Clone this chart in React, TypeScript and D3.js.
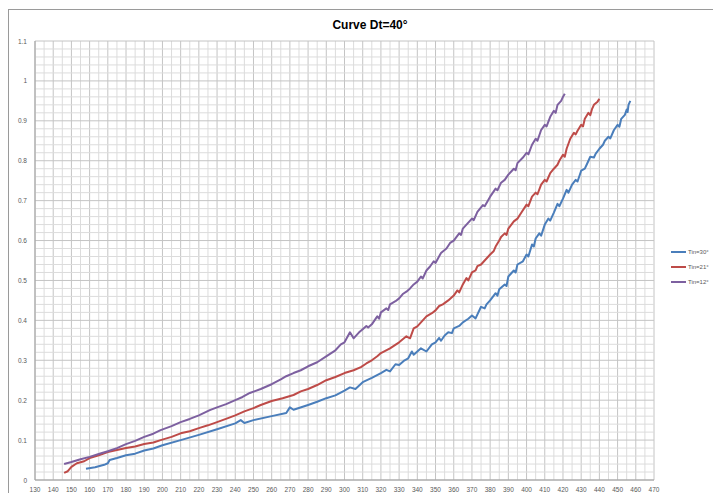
import React from "react";
import * as d3 from "d3";

const title = "Curve Dt=40°";
const xTicks = d3.range(130, 471, 10);
const yTicks = [0, 0.1, 0.2, 0.3, 0.4, 0.5, 0.6, 0.7, 0.8, 0.9, 1, 1.1];
const seriesNames = ["Tin=30°", "Tin=21°", "Tin=12°"];
const seriesColors = ["#4A7EBB", "#BE4B48", "#7D60A0"];

const blue: [number, number][] = [
  [158, 0.028], [163, 0.032], [168, 0.038], [170, 0.042], [171, 0.05], [175, 0.055],
  [180, 0.062], [185, 0.066], [190, 0.074], [195, 0.079], [200, 0.087], [210, 0.1],
  [220, 0.113], [230, 0.127], [240, 0.142], [243, 0.15], [245, 0.143], [250, 0.15],
  [260, 0.16], [268, 0.168], [270, 0.182], [272, 0.176], [280, 0.188], [285, 0.196],
  [290, 0.205], [295, 0.212], [300, 0.224], [303, 0.232], [306, 0.228], [310, 0.245],
  [315, 0.256], [320, 0.268], [323, 0.276], [325, 0.272], [328, 0.29], [330, 0.288],
  [333, 0.3], [335, 0.305], [337, 0.322], [338, 0.314], [342, 0.33], [345, 0.322],
  [348, 0.34], [350, 0.345], [352, 0.356], [353, 0.349], [355, 0.362], [357, 0.37],
  [359, 0.368], [360, 0.38], [363, 0.386], [365, 0.395], [368, 0.404], [370, 0.412],
  [372, 0.405], [375, 0.434], [377, 0.43], [378, 0.44], [380, 0.45], [383, 0.468],
  [384, 0.462], [385, 0.478], [388, 0.49], [389, 0.486], [390, 0.51], [393, 0.525],
  [394, 0.52], [395, 0.54], [398, 0.548], [400, 0.565], [401, 0.56], [403, 0.59],
  [404, 0.585], [405, 0.605], [407, 0.618], [408, 0.612], [410, 0.64], [412, 0.655],
  [413, 0.65], [415, 0.67], [417, 0.692], [418, 0.686], [420, 0.705], [422, 0.727],
  [423, 0.72], [425, 0.74], [427, 0.752], [428, 0.748], [430, 0.775], [432, 0.78],
  [433, 0.79], [435, 0.81], [437, 0.808], [438, 0.818], [440, 0.83], [442, 0.84],
  [443, 0.85], [445, 0.86], [446, 0.856], [448, 0.877], [450, 0.89], [451, 0.885],
  [452, 0.905], [454, 0.915], [455, 0.928], [455.5, 0.922], [456, 0.94], [457, 0.95]
];

const red: [number, number][] = [
  [146, 0.018], [148, 0.022], [150, 0.033], [153, 0.042], [157, 0.047], [160, 0.055],
  [165, 0.062], [170, 0.07], [175, 0.075], [180, 0.08], [185, 0.084], [190, 0.09],
  [195, 0.094], [199, 0.1], [205, 0.108], [210, 0.117], [215, 0.122], [220, 0.13],
  [225, 0.137], [230, 0.145], [236, 0.155], [240, 0.162], [245, 0.172], [250, 0.18],
  [254, 0.188], [260, 0.198], [266, 0.205], [272, 0.213], [276, 0.222], [280, 0.228],
  [285, 0.238], [290, 0.25], [295, 0.258], [300, 0.268], [305, 0.275], [309, 0.283],
  [312, 0.292], [315, 0.3], [318, 0.31], [320, 0.318], [325, 0.33], [330, 0.345],
  [334, 0.36], [336, 0.355], [338, 0.38], [340, 0.385], [342, 0.395], [345, 0.41],
  [348, 0.418], [350, 0.425], [352, 0.436], [354, 0.44], [357, 0.45], [360, 0.462],
  [362, 0.475], [363, 0.47], [365, 0.49], [367, 0.506], [368, 0.5], [370, 0.52],
  [372, 0.525], [373, 0.536], [375, 0.54], [378, 0.555], [380, 0.565], [382, 0.574],
  [383, 0.585], [385, 0.6], [386, 0.609], [388, 0.618], [389, 0.614], [390, 0.63],
  [393, 0.648], [395, 0.655], [397, 0.669], [400, 0.69], [401, 0.686], [403, 0.71],
  [405, 0.72], [406, 0.716], [408, 0.74], [410, 0.752], [411, 0.748], [413, 0.769],
  [415, 0.78], [417, 0.79], [418, 0.8], [420, 0.815], [421, 0.81], [422, 0.83],
  [424, 0.855], [426, 0.87], [427, 0.866], [428, 0.875], [430, 0.89], [431, 0.886],
  [432, 0.905], [434, 0.92], [435, 0.914], [436, 0.93], [437, 0.94], [439, 0.948],
  [440, 0.955]
];

const purple: [number, number][] = [
  [146, 0.04], [150, 0.045], [155, 0.052], [160, 0.058], [165, 0.065], [170, 0.072],
  [175, 0.08], [180, 0.09], [185, 0.098], [190, 0.108], [195, 0.116], [199, 0.125],
  [205, 0.135], [210, 0.145], [215, 0.153], [220, 0.162], [226, 0.175], [230, 0.182],
  [235, 0.19], [240, 0.2], [244, 0.208], [248, 0.218], [254, 0.228], [260, 0.24],
  [265, 0.252], [268, 0.26], [272, 0.268], [276, 0.275], [280, 0.285], [285, 0.295],
  [291, 0.313], [295, 0.325], [298, 0.34], [300, 0.345], [303, 0.37], [305, 0.355],
  [308, 0.37], [310, 0.378], [312, 0.386], [313, 0.382], [315, 0.39], [318, 0.41],
  [319, 0.404], [320, 0.42], [323, 0.43], [324, 0.426], [325, 0.44], [328, 0.448],
  [330, 0.455], [332, 0.466], [334, 0.472], [336, 0.48], [338, 0.49], [340, 0.497],
  [342, 0.51], [343, 0.505], [345, 0.525], [347, 0.535], [349, 0.548], [350, 0.544],
  [353, 0.569], [356, 0.58], [358, 0.594], [360, 0.6], [363, 0.618], [364, 0.614],
  [365, 0.63], [368, 0.645], [370, 0.655], [371, 0.651], [373, 0.672], [376, 0.689],
  [377, 0.686], [380, 0.71], [383, 0.73], [384, 0.726], [386, 0.745], [388, 0.752],
  [390, 0.765], [393, 0.78], [394, 0.776], [395, 0.794], [398, 0.808], [400, 0.82],
  [401, 0.816], [403, 0.84], [405, 0.855], [406, 0.85], [408, 0.877], [410, 0.89],
  [411, 0.886], [413, 0.91], [415, 0.925], [416, 0.92], [417, 0.94], [419, 0.95],
  [420, 0.96], [421, 0.968]
];

const allSeries = [blue, red, purple];

export default function App() {
  const W = 713, H = 493;
  const x = d3.scaleLinear().domain([130, 470]).range([35, 654]);
  const y = d3.scaleLinear().domain([0, 1.1]).range([480, 41]);
  const minorX = d3.range(130, 471, 5);
  const minorY = d3.range(0, 1.1001, 0.02);
  const line = d3.line<[number, number]>().x(d => x(d[0])).y(d => y(d[1]));
  const legendY = [252, 267, 282];
  return (
    <svg width={W} height={H} style={{ position: "absolute", left: 0, top: 0, background: "#fff" }}>
      <rect x={8.5} y={9.5} width={720} height={500} fill="#fff" stroke="#9a9a9a" />
      <text x={370} y={29} textAnchor="middle" fontFamily="Liberation Sans Narrow, Liberation Sans, Arial, sans-serif" fontWeight="bold" fontSize={12} fill="#000">{title}</text>
      {minorX.map(v => (
        <line key={"mx" + v} x1={x(v)} x2={x(v)} y1={y(0)} y2={y(1.1)} stroke={v % 10 === 0 ? "#c4c4c4" : "#dcdcdc"} strokeWidth={1} />
      ))}
      {minorY.map((v, i) => (
        <line key={"my" + i} x1={x(130)} x2={x(470)} y1={y(v)} y2={y(v)} stroke={i % 5 === 0 ? "#c4c4c4" : "#dcdcdc"} strokeWidth={1} />
      ))}
      <line x1={x(130)} x2={x(130)} y1={y(0)} y2={y(1.1)} stroke="#a0a0a0" />
      <line x1={x(130)} x2={x(470)} y1={y(0)} y2={y(0)} stroke="#a0a0a0" />
      {yTicks.map(v => (
        <text key={"yt" + v} x={27} y={y(v) + 2.5} textAnchor="end" fontFamily="Liberation Sans, Arial, sans-serif" fontSize={6.5} fill="#595959">{String(v)}</text>
      ))}
      {xTicks.map(v => (
        <text key={"xt" + v} x={x(v)} y={492} textAnchor="middle" fontFamily="Liberation Sans, Arial, sans-serif" fontSize={6.5} fill="#595959">{String(v)}</text>
      ))}
      {allSeries.map((s, i) => (
        <path key={"s" + i} d={line(s) || ""} fill="none" stroke={seriesColors[i]} strokeWidth={2} strokeLinejoin="round" />
      ))}
      {seriesNames.map((n, i) => (
        <g key={"lg" + i}>
          <line x1={671} x2={686} y1={legendY[i]} y2={legendY[i]} stroke={seriesColors[i]} strokeWidth={2} />
          <text x={688} y={legendY[i] + 2.2} fontFamily="Liberation Sans, Arial, sans-serif" fontSize={6} fill="#595959">{n}</text>
        </g>
      ))}
    </svg>
  );
}
